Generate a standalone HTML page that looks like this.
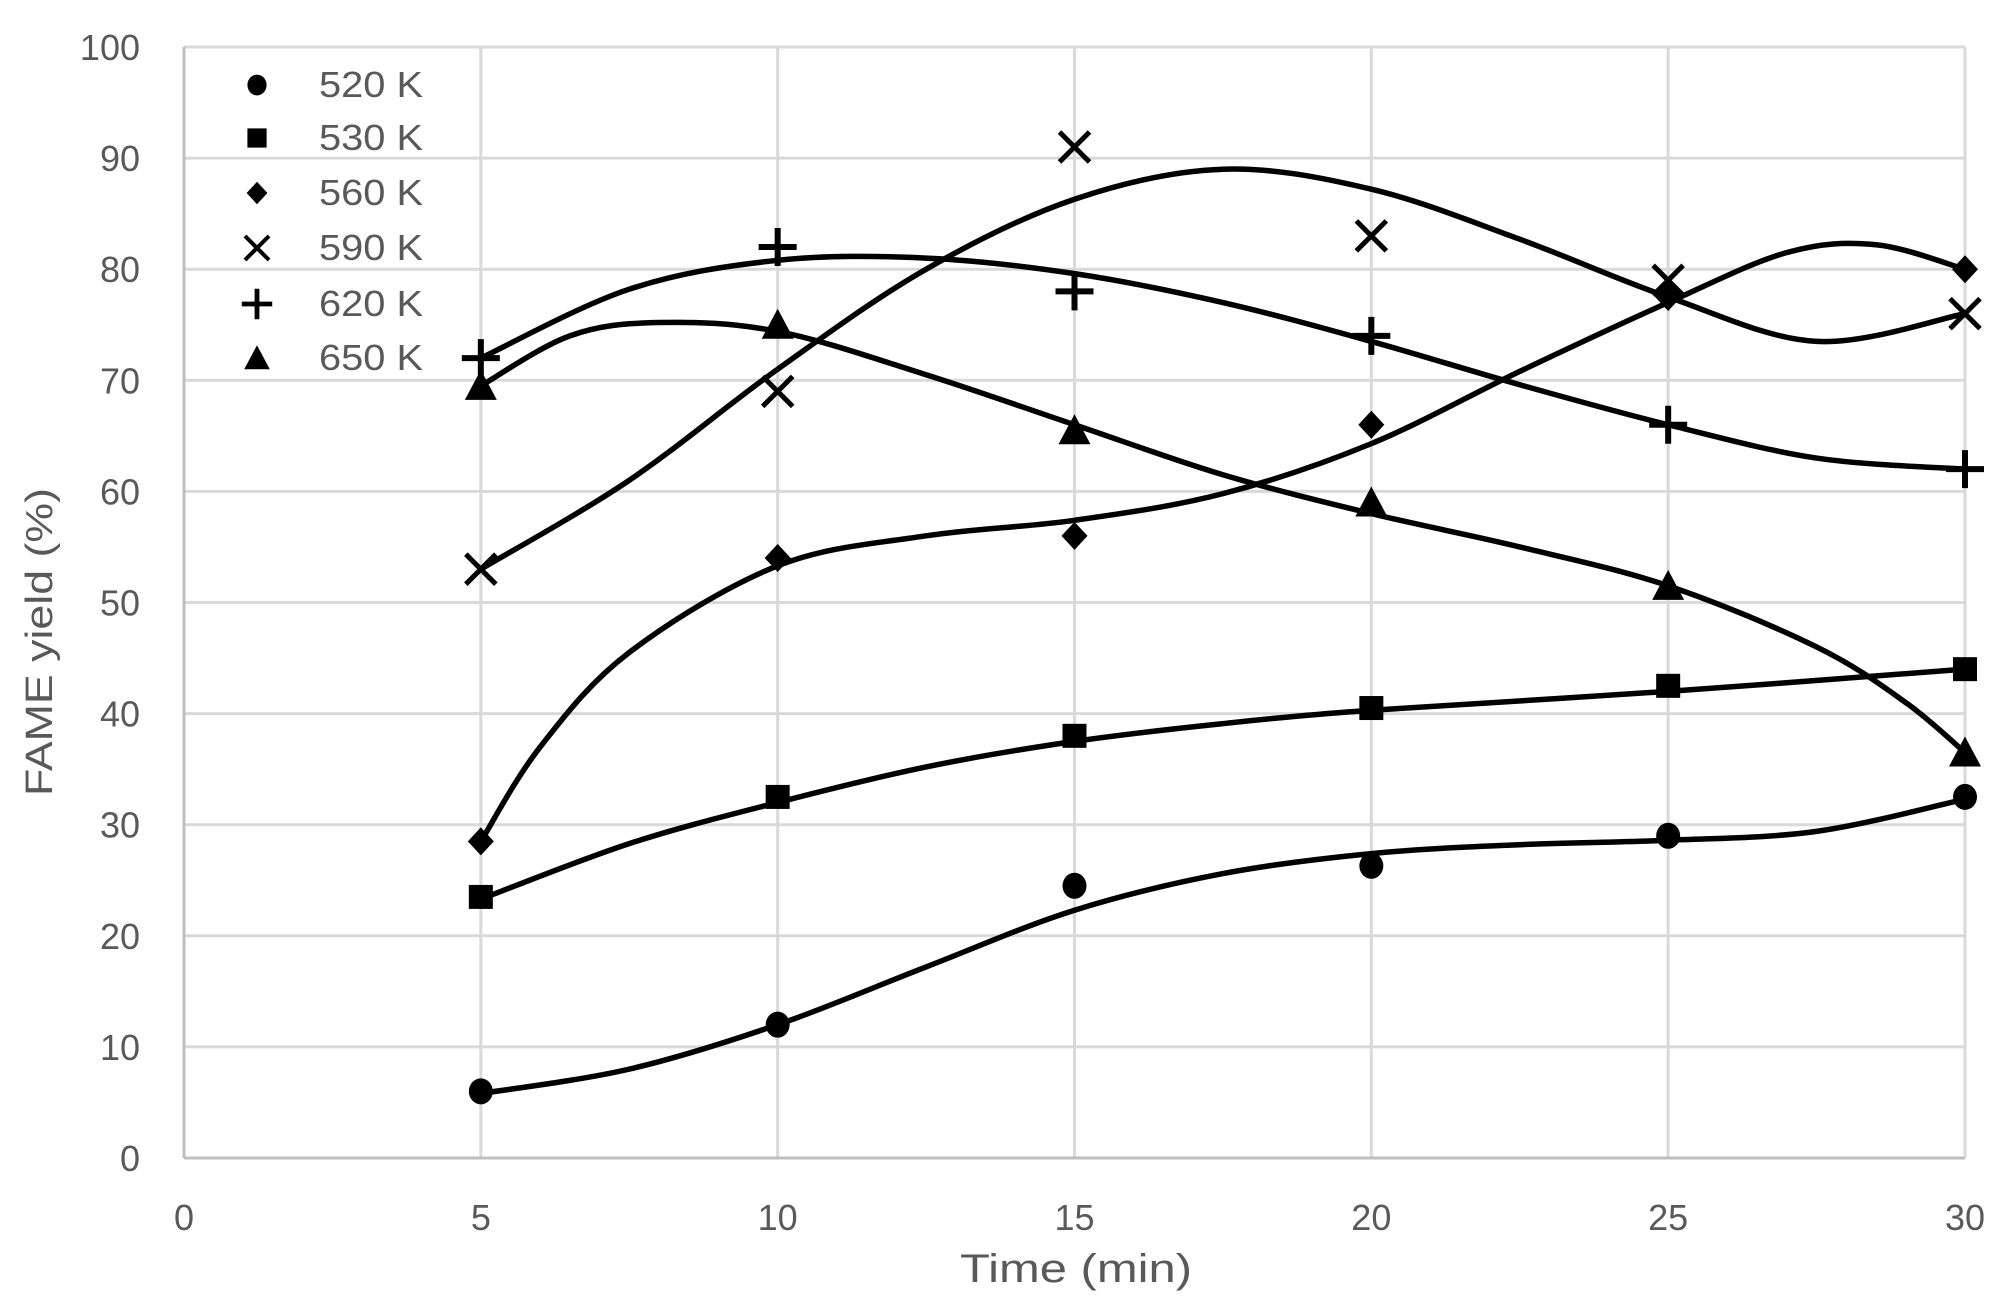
<!DOCTYPE html>
<html><head><meta charset="utf-8"><style>
html,body{margin:0;padding:0;background:#fff;}
svg{display:block;}
text{font-family:"Liberation Sans",sans-serif;fill:#595959;}
</style></head><body>
<svg id="s" width="2014" height="1316" viewBox="0 0 2014 1316" xmlns="http://www.w3.org/2000/svg">
<rect width="2014" height="1316" fill="#fff"/>
<g id="grid" stroke="#d9d9d9" stroke-width="3"></g>
<g id="labels" font-size="36"></g>
<text x="1076" y="1282" font-size="40" text-anchor="middle" textLength="232" lengthAdjust="spacingAndGlyphs">Time (min)</text>
<text transform="translate(52,642) rotate(-90)" font-size="38" text-anchor="middle" textLength="308" lengthAdjust="spacingAndGlyphs">FAME yield (%)</text>
<g id="curves" fill="none" stroke="#000" stroke-width="5.5" stroke-linejoin="round"></g>
<g id="marks"></g>
<g id="legend" font-size="36"></g>
</svg>
<script>
var NS="http://www.w3.org/2000/svg";
var L=184,R=1965,T=47,B=1158;
function X(v){return L+(R-L)*v/30;}
function Y(v){return B-(B-T)*v/100;}
function el(p,t,a){var e=document.createElementNS(NS,t);for(var k in a)e.setAttribute(k,a[k]);p.appendChild(e);return e;}
var g=document.getElementById('grid'),lb=document.getElementById('labels');
for(var i=0;i<=10;i++){var y=Y(i*10);el(g,'line',{x1:L,x2:R,y1:y,y2:y});var t=el(lb,'text',{x:140,y:y+13,'text-anchor':'end'});t.textContent=i*10;}
for(var i=0;i<=6;i++){var x=X(i*5);el(g,'line',{x1:x,x2:x,y1:T,y2:B});var t=el(lb,'text',{x:x,y:1230,'text-anchor':'middle'});t.textContent=i*5;}
el(g,'line',{x1:L,x2:R,y1:B,y2:B,stroke:'#bfbfbf'});el(g,'line',{x1:L,x2:L,y1:T,y2:B,stroke:'#bfbfbf'});
var curves=[
[[5,5.8],[7.5,8],[10,12],[12.5,17.2],[15,22.3],[17.5,25.6],[20,27.4],[22.5,28.2],[25,28.6],[27.5,29.4],[30,32.3]],
[[5,23.3],[7.5,28.3],[10,32],[12.5,35.2],[15,37.5],[17.5,39.1],[20,40.3],[25,42],[30,44]],
[[5,28.5],[6,37],[7.5,45.5],[10,53.3],[12.5,56],[15,57.4],[17.5,59.8],[20,64.3],[22.5,70.8],[25,77],[27,81.5],[28.5,82.2],[30,80]],
[[5,53],[7.5,61],[10,71],[12.5,80],[15,86.3],[17.5,89],[20,87.2],[22.5,82.7],[25,77.5],[27.5,73.5],[30,76]],
[[5,72],[7.5,78.2],[10,80.8],[12.5,81],[15,79.6],[17.5,77],[20,73.5],[22.5,69.6],[25,66],[27.5,63],[30,62]],
[[5,69.5],[6.5,74],[8,75.2],[10,74.4],[12.5,70.5],[15,66],[17.5,61.5],[20,58],[22.5,55],[25,51.5],[27.5,46],[29,41],[30,36.5]]
];
var cg=document.getElementById('curves');
curves.forEach(function(c){var p=c.map(function(q){return [X(q[0]),Y(q[1])];});
var d='M'+p[0][0]+','+p[0][1];
for(var i=0;i<p.length-1;i++){var p0=p[i-1]||p[i],p1=p[i],p2=p[i+1],p3=p[i+2]||p2;
d+=' C'+(p1[0]+(p2[0]-p0[0])/6)+','+(p1[1]+(p2[1]-p0[1])/6)+' '+(p2[0]-(p3[0]-p1[0])/6)+','+(p2[1]-(p3[1]-p1[1])/6)+' '+p2[0]+','+p2[1];}
el(cg,'path',{d:d});});
var data=[[6,12,24.5,26.3,29,32.5],[23.5,32.5,38,40.5,42.5,44],[28.5,54,56,66,77.5,80],[53,69,91,83,79,76],[72,82,78,74,66,62],[69.5,75,65.5,59,51.5,36.5]];
var mg=document.getElementById('marks');
function mark(p,k,x,y,s){s=s||1;
if(k==0)el(p,'ellipse',{cx:x,cy:y,rx:12*s,ry:13*s,fill:'#000'});
if(k==1)el(p,'rect',{x:x-12*s,y:y-12*s,width:24*s,height:24*s,fill:'#000'});
if(k==2)el(p,'path',{d:'M'+x+','+(y-14*s)+' L'+(x+13*s)+','+y+' L'+x+','+(y+14*s)+' L'+(x-13*s)+','+y+'Z',fill:'#000'});
if(k==3)el(p,'path',{d:'M'+(x-15*s)+','+(y-15*s)+' L'+(x+15*s)+','+(y+15*s)+' M'+(x+15*s)+','+(y-15*s)+' L'+(x-15*s)+','+(y+15*s),stroke:'#000','stroke-width':5*s});
if(k==4)el(p,'path',{d:'M'+(x-19*s)+','+y+' L'+(x+19*s)+','+y+' M'+x+','+(y-19*s)+' L'+x+','+(y+19*s),stroke:'#000','stroke-width':6*s});
if(k==5)el(p,'path',{d:'M'+x+','+(y-16*s)+' L'+(x+16*s)+','+(y+14*s)+' L'+(x-16*s)+','+(y+14*s)+'Z',fill:'#000'});}
data.forEach(function(r,k){r.forEach(function(v,i){mark(mg,k,X(5+5*i),Y(v));});});
var lg=document.getElementById('legend');
var ly=[85,138,193,248,304,358],names=['520 K','530 K','560 K','590 K','620 K','650 K'];
ly.forEach(function(y,k){mark(lg,k,257,y,0.8);var t=el(lg,'text',{x:319,y:y+12,textLength:104,lengthAdjust:'spacingAndGlyphs'});t.textContent=names[k];});
</script>
</body></html>
